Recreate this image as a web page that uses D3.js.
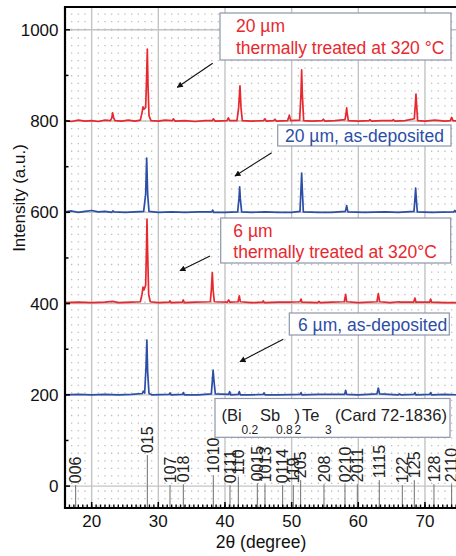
<!DOCTYPE html>
<html><head><meta charset="utf-8">
<script src="https://cdn.jsdelivr.net/npm/d3@7/dist/d3.min.js"></script>
<style>
body{margin:0;background:#fff;}
svg{display:block;font-family:"Liberation Sans",Arial,sans-serif;}
</style></head>
<body><svg id="c" width="456" height="556"></svg>
<script>
// ---------- data ----------
const xTicks = [20, 30, 40, 50, 60, 70];
const yTicks = [0, 200, 400, 600, 800, 1000];

const red20 = [[16,801],[17,799],[18,802],[19,800],[20,801],[21,799],[22,802],[22.8,801],[23.0,806],[23.15,818],[23.3,807],[23.5,801],[24.5,800],[25.5,802],[26.5,800],[27.3,802],[27.55,818],[27.7,831],[27.85,826],[28.1,830],[28.25,900],[28.35,958],[28.45,880],[28.6,812],[28.9,801],[30,800],[31,802],[32.1,801],[32.25,805],[32.5,800],[34,801],[35.5,799],[37,801],[38.1,801],[38.25,805],[38.5,800],[40.3,801],[40.5,807],[40.7,801],[41.8,801],[42.05,830],[42.25,877],[42.4,830],[42.6,801],[44,800],[45.8,801],[46.0,805],[46.2,800],[47.3,801],[47.5,804],[47.7,800],[49.4,801],[49.65,813],[49.85,801],[51.2,802],[51.4,860],[51.5,912],[51.6,860],[51.8,801],[53,800],[54.6,801],[54.75,804],[55,800],[56.5,801],[58.0,803],[58.15,815],[58.25,829],[58.35,815],[58.5,801],[60,800],[61.6,801],[61.75,803],[62,800],[63.5,801],[65.1,801],[65.25,803],[65.5,800],[67,801],[68.4,805],[68.55,835],[68.65,859],[68.75,835],[68.9,801],[70,800],[71.5,802],[73,800],[73.8,801],[74.0,808],[74.2,801],[75,800]];

const blue20 = [[16,601],[17,603],[18,600],[19,602],[20,604],[21,601],[22,602],[23,600],[23.2,603],[23.4,601],[25,600],[26.5,601],[27.8,602],[28.1,640],[28.25,719],[28.4,640],[28.6,602],[30,600],[32,601],[34,600],[36,601],[38.0,601],[38.15,605],[38.3,600],[40,600],[41.9,601],[42.1,630],[42.2,656],[42.3,630],[42.5,601],[44,600],[46,601],[48,600],[50,600],[51.25,602],[51.4,650],[51.5,686],[51.6,650],[51.75,601],[54,600],[56,600],[58.05,602],[58.2,610],[58.25,615],[58.3,610],[58.45,601],[61,600],[64,601],[66,600],[68.35,602],[68.5,630],[68.6,653],[68.7,630],[68.85,601],[71,600],[74.3,601],[74.5,604],[74.7,600],[75,600]];

const red6 = [[16,402],[18,403],[20,402],[22,403],[23.15,405],[24,402],[26,403],[27.3,404],[27.55,420],[27.7,436],[27.85,430],[28.1,440],[28.22,520],[28.3,585],[28.4,510],[28.55,420],[28.8,404],[30,402],[31.6,403],[31.75,406],[31.9,402],[33.6,403],[33.75,408],[33.9,402],[35.5,403],[37.8,404],[37.95,430],[38.1,468],[38.22,430],[38.4,404],[40.35,403],[40.55,408],[40.75,403],[41.95,404],[42.15,417],[42.3,404],[44,402],[45.6,403],[45.75,406],[45.9,402],[48,403],[49.6,403],[51.25,404],[51.4,410],[51.55,403],[53.9,402],[54.1,405],[54.3,402],[56,403],[57.9,404],[58.1,420],[58.25,404],[60,402],[62.8,404],[63.0,422],[63.2,404],[64.8,402],[66.1,404],[66.25,403],[68.3,403],[68.5,412],[68.65,403],[70.7,403],[70.85,410],[71.0,403],[73,402],[75,402]];

const blue6 = [[16,200],[18,201],[20,200],[22,201],[24,200],[26,201],[27.6,203],[27.75,208],[27.95,204],[28.15,260],[28.28,320],[28.4,250],[28.6,203],[29,200],[31.6,201],[31.75,204],[31.9,200],[33.6,201],[33.75,205],[33.9,200],[36,200],[37.95,202],[38.1,230],[38.22,254],[38.35,230],[38.55,202],[40.55,201],[40.7,207],[40.85,200],[42,201],[42.15,207],[42.3,200],[44,200],[45.7,201],[45.85,204],[46,200],[48,200],[51.25,201],[51.4,205],[51.55,200],[54,201],[57.95,201],[58.1,210],[58.25,201],[60,200],[62.8,202],[63.0,215],[63.2,202],[66,200],[66.2,202],[66.4,200],[68.35,201],[68.5,205],[68.65,200],[70.7,201],[70.85,205],[71,200],[73,201],[75,200]];

const refPos    = [17.6, 28.35, 31.75, 33.75, 38.25, 40.75, 42.0, 44.85, 46.0, 48.65, 50.25, 51.35, 54.85, 58.0, 59.85, 63.15, 66.6, 68.4, 71.35, 74.0];
const refLabels = ["006","015","107","018","1010","0111","110","0015","1013","0114","119","205","208","0210","2011","1115","122","125","128","2110"];
const refTops   = [2, 68, 2, 4, 24, 2, 20, 6, 4, 2, 2, 13, 4, 4, 4, 13, 2, 13, 4, 4];

// ---------- layout ----------
const svg = d3.select("#c");
const L = 65, T = 7, B = 508, R = 458.3;
const x = d3.scaleLinear().domain([16, 75]).range([L, R]);
const y = d3.scaleLinear().domain([-48, 1050]).range([B, T]);
const RED = "#e8282e", BLUE = "#2c4ea6";

svg.append("defs").append("clipPath").attr("id","pc")
  .append("rect").attr("x",L).attr("y",T).attr("width",R-L).attr("height",B-T);
const plot = svg.append("g").attr("clip-path","url(#pc)");

// dotted minor grid
const minorX = d3.range(17, 76).filter(v => v % 10 !== 0);
plot.append("g").selectAll("line").data(minorX)
  .join("line").attr("x1", d=>x(d)).attr("x2", d=>x(d)).attr("y1", y(1000)).attr("y2", B)
  .attr("stroke","#bdbdbd").attr("stroke-width",1.3).attr("stroke-dasharray","1.3,6.25");
plot.append("g").selectAll("line").data(minorX)
  .join("line").attr("x1", d=>x(d)).attr("x2", d=>x(d)).attr("y1", y(1000)).attr("y2", T)
  .attr("stroke","#bdbdbd").attr("stroke-width",1.3).attr("stroke-dasharray","1.3,6.25");
// solid grid
plot.append("g").selectAll("line").data(xTicks).join("line")
  .attr("x1", d=>x(d)).attr("x2", d=>x(d)).attr("y1", T).attr("y2", B)
  .attr("stroke","#c4c4c4").attr("stroke-width",1.4);
plot.append("g").selectAll("line").data(yTicks).join("line")
  .attr("x1", L).attr("x2", R).attr("y1", d=>y(d)).attr("y2", d=>y(d))
  .attr("stroke","#c4c4c4").attr("stroke-width",1.4);

// reference sticks
const sticks = plot.append("g");
sticks.selectAll("line").data(refPos).join("line")
  .attr("x1", d=>x(d)).attr("x2", d=>x(d)).attr("y1", B).attr("y2", (d,i)=>y(refTops[i]))
  .attr("stroke","#6e6e6e").attr("stroke-width",1);
sticks.selectAll("text").data(refPos).join("text")
  .attr("transform", (d,i)=>`translate(${x(d)},${y(refTops[i])-2}) rotate(-90)`)
  .attr("dy","0.36em").attr("font-size",16).attr("fill","#222")
  .text((d,i)=>refLabels[i]);

// curves
const line = d3.line().x(d=>x(d[0])).y(d=>y(d[1]));
[[red20,RED],[blue20,BLUE],[red6,RED],[blue6,BLUE]].forEach(([s,c])=>{
  plot.append("path").datum(s).attr("d", line).attr("fill","none")
    .attr("stroke", c).attr("stroke-width",1.7).attr("stroke-linejoin","round");
});

// axes
const ax = svg.append("g");
ax.selectAll(".ymaj").data(yTicks).join("line")
  .attr("x1",L).attr("x2",L+5).attr("y1",d=>y(d)).attr("y2",d=>y(d)).attr("stroke","#000").attr("stroke-width",1.5);
ax.selectAll(".ymin").data(d3.range(100,1001,200)).join("line")
  .attr("x1",L).attr("x2",L+3.5).attr("y1",d=>y(d)).attr("y2",d=>y(d)).attr("stroke","#000").attr("stroke-width",1.5);
ax.selectAll(".xmin").data(d3.range(0, 89).map(i=>16+i*2/3).filter(v=>v<75)).join("line")
  .attr("x1",d=>x(d)).attr("x2",d=>x(d)).attr("y1",B).attr("y2",B-3.5).attr("stroke","#000").attr("stroke-width",1.4);
ax.selectAll(".xmaj").data(xTicks).join("line")
  .attr("x1",d=>x(d)).attr("x2",d=>x(d)).attr("y1",B).attr("y2",B-6).attr("stroke","#000").attr("stroke-width",1.5);
ax.append("line").attr("x1",L).attr("x2",L).attr("y1",T-1).attr("y2",B+1).attr("stroke","#000").attr("stroke-width",2.2);
ax.append("line").attr("x1",L-1).attr("x2",R).attr("y1",B).attr("y2",B).attr("stroke","#000").attr("stroke-width",2.2);
ax.append("line").attr("x1",L-1).attr("x2",R).attr("y1",T).attr("y2",T).attr("stroke","#000").attr("stroke-width",2.2);

ax.selectAll(".yl").data(yTicks).join("text")
  .attr("x", 58.5).attr("y", d=>y(d)).attr("dy","0.35em").attr("text-anchor","end")
  .attr("font-size",17).attr("fill","#111").text(d=>d);
ax.selectAll(".xl").data(xTicks).join("text")
  .attr("x", d=>x(d)).attr("y", 527).attr("text-anchor","middle")
  .attr("font-size",17).attr("fill","#111").text(d=>d);
svg.append("text").attr("transform","translate(25,198) rotate(-90)").attr("text-anchor","middle")
  .attr("font-size",17).attr("fill","#111").text("Intensity (a.u.)");
svg.append("text").attr("x",261).attr("y",548).attr("text-anchor","middle")
  .attr("font-size",17.5).attr("fill","#111").text("2θ (degree)");

// arrows
const defs = svg.select("defs");
defs.append("marker").attr("id","ah").attr("viewBox","0 0 10 10").attr("refX",9).attr("refY",5)
  .attr("markerWidth",7).attr("markerHeight",6).attr("markerUnits","userSpaceOnUse").attr("orient","auto")
  .append("path").attr("d","M0,0 L10,5 L0,10 z").attr("fill","#111");
const arrows = [[212.7,63.3,177.3,87.3],[271.7,152.7,235,176],[210,256,180,270.7],[283.3,339.3,240,361.7]];
svg.append("g").selectAll("line").data(arrows).join("line")
  .attr("x1",d=>d[0]).attr("y1",d=>d[1]).attr("x2",d=>d[2]).attr("y2",d=>d[3])
  .attr("stroke","#111").attr("stroke-width",1.1).attr("marker-end","url(#ah)");

// legend boxes
const boxStroke = "#8d95a8";
function box(x0,y0,x1,y1){
  svg.append("rect").attr("x",x0).attr("y",y0).attr("width",x1-x0).attr("height",y1-y0)
    .attr("fill","#fff").attr("stroke",boxStroke).attr("stroke-width",1.2);
}
function txt(s,x0,y0,c,fs){
  svg.append("text").attr("x",x0).attr("y",y0).attr("fill",c).attr("font-size",fs||17.5).text(s);
}
box(220,13,451,60);
txt("20 µm",236,32,RED); txt("thermally treated at 320 °C",236,54,RED);
box(277.7,125,451,146);
txt("20 µm, as-deposited",285,142,BLUE);
box(220.7,218,450.7,263);
txt("6 µm",233.3,237,RED); txt("thermally treated at 320°C",233.3,257.5,RED);
box(289.3,313,449.3,335);
txt("6 µm, as-deposited",298,331,BLUE);
box(215,398.5,450,437.3);
const K = "#222";
txt("(Bi",221.5,421,K,16.5); txt("0.2",241.5,434,K,12);
txt("Sb",260,421,K,16.5); txt("0.8",276,434,K,12);
txt(")",294.5,421,K,16.5); txt("2",294.5,434,K,12);
txt("Te",302,421,K,16.5); txt("3",325,434,K,12);
txt("(Card 72-1836)",335,421,K,16.5);
</script>
</body></html>
